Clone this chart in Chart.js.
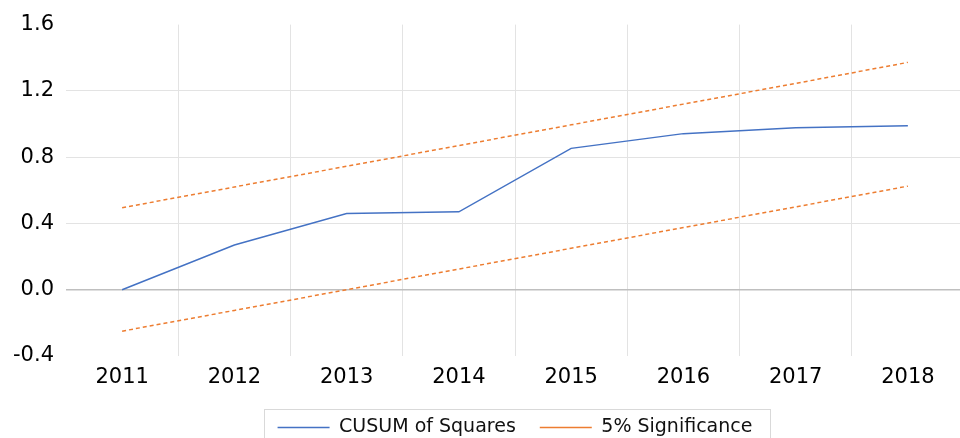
<!DOCTYPE html>
<html>
<head>
<meta charset="utf-8">
<script src="https://cdn.jsdelivr.net/npm/chart.js@4"></script>
<style>
  html, body { margin: 0; padding: 0; overflow: hidden; background: #fff; width: 960px; height: 438px; }
  #wrap { position: absolute; left: 0; top: 0; width: 968px; height: 447px; }
</style>
</head>
<body>
<div id="wrap"><canvas id="c" width="968" height="447"></canvas></div>
<script>
const years = ['2011', '2012', '2013', '2014', '2015', '2016', '2017', '2018'];
const cusum = [0.0, 0.27, 0.46, 0.47, 0.853, 0.942, 0.978, 0.99];
const upper = [0.495, 0.62, 0.745, 0.87, 0.995, 1.12, 1.245, 1.372];
const lower = [-0.25, -0.125, 0.0, 0.125, 0.25, 0.375, 0.5, 0.625];
const yTicks = [-0.4, 0.0, 0.4, 0.8, 1.2, 1.6];
const seriesNames = ['CUSUM of Squares', '5% Significance'];

const legendBox = {
  id: 'legendBox',
  afterDraw(chart) {
    const hb = chart.legend && chart.legend.legendHitBoxes;
    if (!hb || !hb.length) return;
    const ctx = chart.ctx;
    const last = hb[hb.length - 1];
    const l = Math.round(hb[0].left - 14) + 0.5;
    const r = Math.round(last.left + last.width + 18) + 0.5;
    ctx.save();
    ctx.strokeStyle = '#d9d9d9';
    ctx.lineWidth = 1;
    ctx.strokeRect(l, 409.5, r - l, 60);
    ctx.restore();
  }
};

new Chart(document.getElementById('c'), {
  type: 'line',
  data: {
    labels: years,
    datasets: [
      { label: seriesNames[0], data: cusum, borderColor: '#4472C4', backgroundColor: '#4472C4', borderWidth: 1.5, pointRadius: 0, tension: 0 },
      { label: seriesNames[1], data: upper, borderColor: '#ED7D31', backgroundColor: '#ED7D31', borderWidth: 1.5, borderDash: [4, 3], pointRadius: 0, tension: 0 },
      { label: '__lower', data: lower, borderColor: '#ED7D31', backgroundColor: '#ED7D31', borderWidth: 1.5, borderDash: [4, 3], pointRadius: 0, tension: 0 }
    ]
  },
  options: {
    responsive: false,
    animation: false,
    devicePixelRatio: 1,
    layout: { padding: { top: 22, right: 4, left: 0, bottom: 0 } },
    plugins: {
      tooltip: { enabled: false },
      legend: {
        position: 'bottom',
        fullSize: false,
        labels: {
          filter: (item) => item.text !== '__lower',
          usePointStyle: true,
          pointStyleWidth: 52,
          pointStyle: 'line',
          boxHeight: 19,
          padding: 24,
          color: '#111',
          font: { family: 'DejaVu Sans', size: 19 }
        }
      }
    },
    scales: {
      x: {
        offset: true,
        grid: {
          offset: true,
          drawTicks: false,
          color: (ctx) => ctx.index === 0 ? 'rgba(0,0,0,0)' : '#e3e3e3',
          lineWidth: 1
        },
        border: { display: false },
        ticks: { color: '#000', font: { family: 'DejaVu Sans', size: 21 }, padding: 9, maxRotation: 0 },
        afterFit: (s) => { s.height = 38; }
      },
      y: {
        min: yTicks[0],
        max: yTicks[yTicks.length - 1],
        afterBuildTicks: (s) => { s.ticks = yTicks.map(v => ({ value: v })); },
        grid: {
          drawTicks: false,
          color: (ctx) => {
            const v = ctx.tick ? ctx.tick.value : null;
            if (v === yTicks[0] || v === yTicks[yTicks.length - 1]) return 'rgba(0,0,0,0)';
            return Math.abs(v) < 1e-9 ? '#bfbfbf' : '#e3e3e3';
          },
          lineWidth: (ctx) => (ctx.tick && Math.abs(ctx.tick.value) < 1e-9) ? 1.5 : 1
        },
        border: { display: false },
        ticks: {
          color: '#000',
          font: { family: 'DejaVu Sans', size: 21 },
          padding: 12,
          callback: (v) => Number(v).toFixed(1)
        },
        afterFit: (s) => { s.width = 66; }
      }
    }
  },
  plugins: [legendBox]
});
</script>
</body>
</html>
